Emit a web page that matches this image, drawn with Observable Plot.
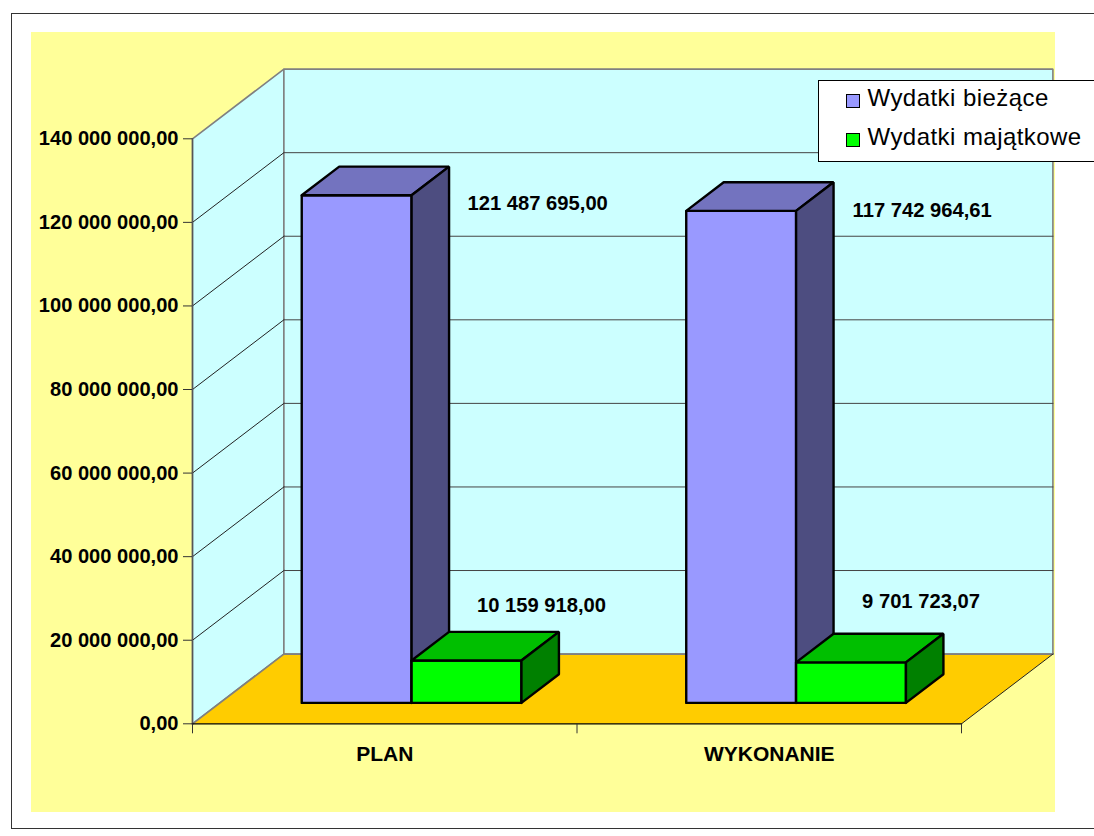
<!DOCTYPE html>
<html lang="pl">
<head>
<meta charset="utf-8">
<script src="https://cdn.jsdelivr.net/npm/d3@7"></script>
<script src="https://cdn.jsdelivr.net/npm/@observablehq/plot@0.6"></script>
<style>
  html, body { margin: 0; padding: 0; background: #fff; overflow: hidden; }
  #page { position: relative; width: 1094px; height: 836px; overflow: hidden; font-family: "Liberation Sans", Arial, sans-serif; }
  #border { position: absolute; left: 11px; top: 12.5px; width: 1200px; height: 816.5px; border: 1.5px solid #333; box-sizing: border-box; }
  #plotbg { position: absolute; left: 31px; top: 32px; width: 1024px; height: 780px; background: #FFFF99; }
  #chart { position: absolute; left: 0; top: 0; }
  #legend { position: absolute; left: 817.5px; top: 80px; width: 300px; height: 81.5px; box-sizing: border-box; background: #fff; border: 1.5px solid #000; }
  .row { position: absolute; left: 0; font-size: 24px; line-height: 28px; letter-spacing: 0.45px; color: #000; white-space: nowrap; }
  .row i { position: absolute; left: 27px; top: 8px; width: 14px; height: 14px; box-sizing: border-box; border: 1.5px solid #000; }
  .row span { position: absolute; left: 49px; top: -2.4px; }
</style>
</head>
<body>
<div id="page">
  <div id="border"></div>
  <div id="plotbg"></div>
  <div id="chart"></div>
  <div id="legend"></div>
</div>
<script>
// ---- data ----
const categories = ["PLAN", "WYKONANIE"];
const seriesNames = ["Wydatki bieżące", "Wydatki majątkowe"];
const wydatkiBiezace = [121487695.00, 117742964.61];
const wydatkiMajatkowe = [10159918.00, 9701723.07];
const yTicks = [0, 20e6, 40e6, 60e6, 80e6, 100e6, 120e6, 140e6];

// ---- styles ----
const seriesColors = [
  {front: "#9999FF", top: "#7373BF", side: "#4D4D80"},
  {front: "#00FF00", top: "#00BF00", side: "#008000"}
];
const labelNudges = [[[181, 8], [181, 0]], [[75, -55], [70, -61]]];

// ---- oblique 3-D projection, expressed in data units of the two scales ----
const yMax = 140e6;
const depthX = 0.2377;   // category units across the whole depth of the box
const depthY = 16.68e6;  // value units across the whole depth of the box
const barWidth = 1 / 3.5, barFront = 0.30, barBack = 0.71;
const P = (c, v, z) => ({x: c + z * depthX, y: v + z * depthY});
const poly = (pts, fill, stroke, strokeWidth = 2.4) =>
  Plot.line([...pts, pts[0]], {x: "x", y: "y", fill, stroke, strokeWidth, strokeLinejoin: "miter"});
const path = (pts, stroke, strokeWidth) =>
  Plot.line(pts, {x: "x", y: "y", stroke, strokeWidth, strokeLinejoin: "miter", strokeLinecap: "square"});

const fmt = d3.formatLocale({decimal: ",", thousands: " ", grouping: [3], currency: ["", ""]}).format(",.2f");

const nCat = categories.length;
const marks = [];

// walls and floor
const grey = "#808080";
marks.push(poly([P(0,0,0), P(0,yMax,0), P(0,yMax,1), P(0,0,1)], "#CCFFFF", grey, 1.6));
marks.push(poly([P(0,0,1), P(0,yMax,1), P(nCat,yMax,1), P(nCat,0,1)], "#CCFFFF", grey, 1.6));
marks.push(poly([P(0,0,0), P(nCat,0,0), P(nCat,0,1), P(0,0,1)], "#FFCC00", "none"));

// gridlines
for (const t of yTicks.slice(1, -1)) {
  marks.push(path([P(0,t,0), P(0,t,1)], "#222", 1));
  marks.push(path([P(0,t,1), P(nCat,t,1)], "#444", 1));
}
// re-stroke floor edges
marks.push(path([P(0,0,0), P(0,0,1)], grey, 1.6));
marks.push(path([P(0,0,1), P(nCat,0,1)], grey, 1.6));
marks.push(path([P(nCat,0,0), P(nCat,0,1)], "#222", 1));
marks.push(path([P(0,0,0), P(0,yMax,0)], "#555", 1.4));

// bars
const groupMargin = (1 - 2 * barWidth) / 2 - 0.0015;
categories.forEach((_, c) => {
  [wydatkiBiezace, wydatkiMajatkowe].forEach((values, s) => {
    const v = values[c], col = seriesColors[s];
    const l = c + groupMargin + s * barWidth, r = l + barWidth;
    marks.push(poly([P(l,0,barFront), P(r,0,barFront), P(r,v,barFront), P(l,v,barFront)], col.front, "#000"));
    marks.push(poly([P(l,v,barFront), P(r,v,barFront), P(r,v,barBack), P(l,v,barBack)], col.top, "#000"));
    marks.push(poly([P(r,0,barFront), P(r,0,barBack), P(r,v,barBack), P(r,v,barFront)], col.side, "#000"));
  });
});

// front axis line, axes
marks.push(path([P(0,0,0), P(nCat,0,0)], "#000", 1.2));
marks.push(Plot.axisY(yTicks, {anchor: "left", tickSize: 9, tickPadding: 5, label: null, tickFormat: fmt, stroke: "#333", fill: "#000", textAnchor: "end", fontSize: 20.1}));
marks.push(Plot.axisX(d3.range(nCat + 1), {anchor: "bottom", tickSize: 10, label: null, tickFormat: () => "", stroke: "#333"}));

// category labels
marks.push(Plot.text(categories, {x: (d, i) => i + 0.5, y: () => 0, dy: 30, text: d => d, fill: "#000", fontSize: 21}));

// value labels
[wydatkiBiezace, wydatkiMajatkowe].forEach((values, s) => {
  values.forEach((v, c) => {
    const a = P(c + groupMargin + (s + 0.5) * barWidth, v, barFront);
    marks.push(Plot.text([v], {x: () => a.x, y: () => a.y, text: d => fmt(d), dx: labelNudges[s][c][0], dy: labelNudges[s][c][1], fill: "#000", fontSize: 20.2}));
  });
});

const chart = Plot.plot({
  width: 1094, height: 836,
  marginLeft: 192, marginRight: 133, marginTop: 138.3, marginBottom: 112.7,
  x: {domain: [0, nCat]},
  y: {domain: [0, yMax]},
  style: {background: "transparent", fontFamily: '"Liberation Sans", Arial, sans-serif', fontSize: "20px", fontWeight: "bold", overflow: "visible"},
  marks
});
document.getElementById("chart").append(chart);

// legend
const legend = document.getElementById("legend");
seriesNames.forEach((name, s) => {
  const row = document.createElement("div");
  row.className = "row";
  row.style.top = (s === 0 ? 5 : 44) + "px";
  const sw = document.createElement("i");
  sw.style.background = seriesColors[s].front;
  const t = document.createElement("span");
  t.textContent = name;
  row.append(sw, t);
  legend.append(row);
});
</script>
</body>
</html>
